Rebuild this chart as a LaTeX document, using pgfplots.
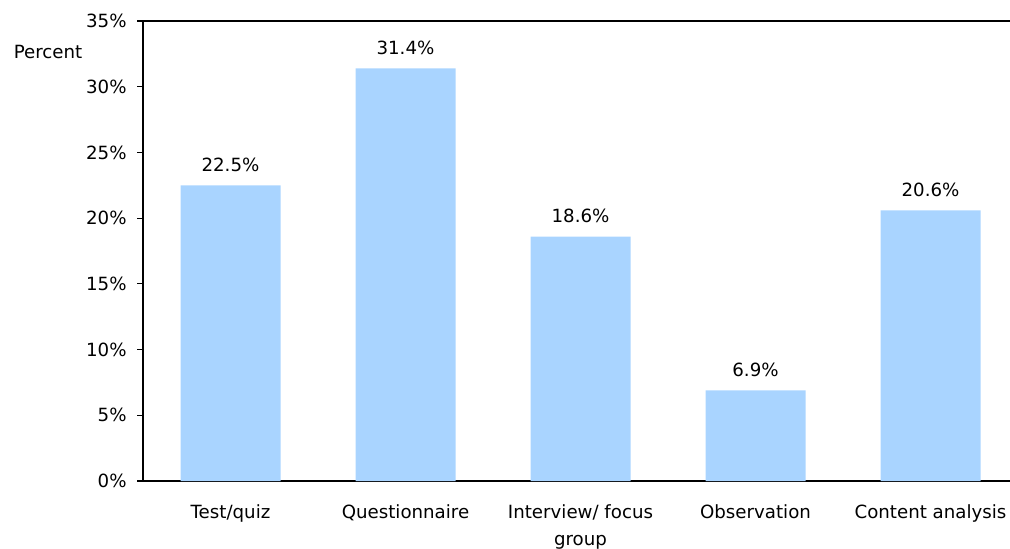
\documentclass[border=0pt]{standalone}
\usepackage{pgfplots}
\pgfplotsset{compat=1.18}
\usepackage{fontspec}
\setmainfont{DejaVu Sans}
\definecolor{barblue}{RGB}{169,212,255}
\begin{document}
\fontsize{9.1}{13.5}\selectfont
\begin{tikzpicture}
\begin{axis}[
  name=ax,
  at={(0,0)}, anchor=south west,
  scale only axis,
  width=437.5pt, height=230pt,
  xmin=-0.5, xmax=4.5,
  ymin=0, ymax=35,
  ybar, bar width=50pt,
  axis line style={black, line width=0.8pt},
  xtick=data,
  xticklabels={Test/quiz, Questionnaire, Interview/ focus\\group, Observation, Content analysis},
  xtick style={draw=none},
  xticklabel style={align=center, anchor=north, inner sep=0pt, yshift=-8.5pt},
  ytick={0,5,10,15,20,25,30,35},
  yticklabels={0\%,5\%,10\%,15\%,20\%,25\%,30\%,35\%},
  ytick pos=left,
  tick align=outside,
  major tick length=3pt,
  ytick style={black, line width=0.6pt},
  yticklabel style={anchor=east, inner sep=0pt, xshift=-5pt},
  /pgf/number format/assume math mode=true,
  nodes near coords={\pgfmathprintnumber[fixed,precision=1,fixed zerofill]{\pgfplotspointmeta}\%},
  every node near coord/.append style={anchor=south, inner sep=0pt, yshift=6.5pt, font=\fontsize{9.1}{13.5}\selectfont},
  clip=false,
]
\addplot[fill=barblue, draw=none] coordinates {(0,22.5) (1,31.4) (2,18.6) (3,6.9) (4,20.6)};
\end{axis}
\node at (-47.5pt,214.5pt) {Percent};
\pgfresetboundingbox
\path[use as bounding box] (-71.5pt,-33.5pt) rectangle (433.5pt,240.5pt);
\end{tikzpicture}
\end{document}
